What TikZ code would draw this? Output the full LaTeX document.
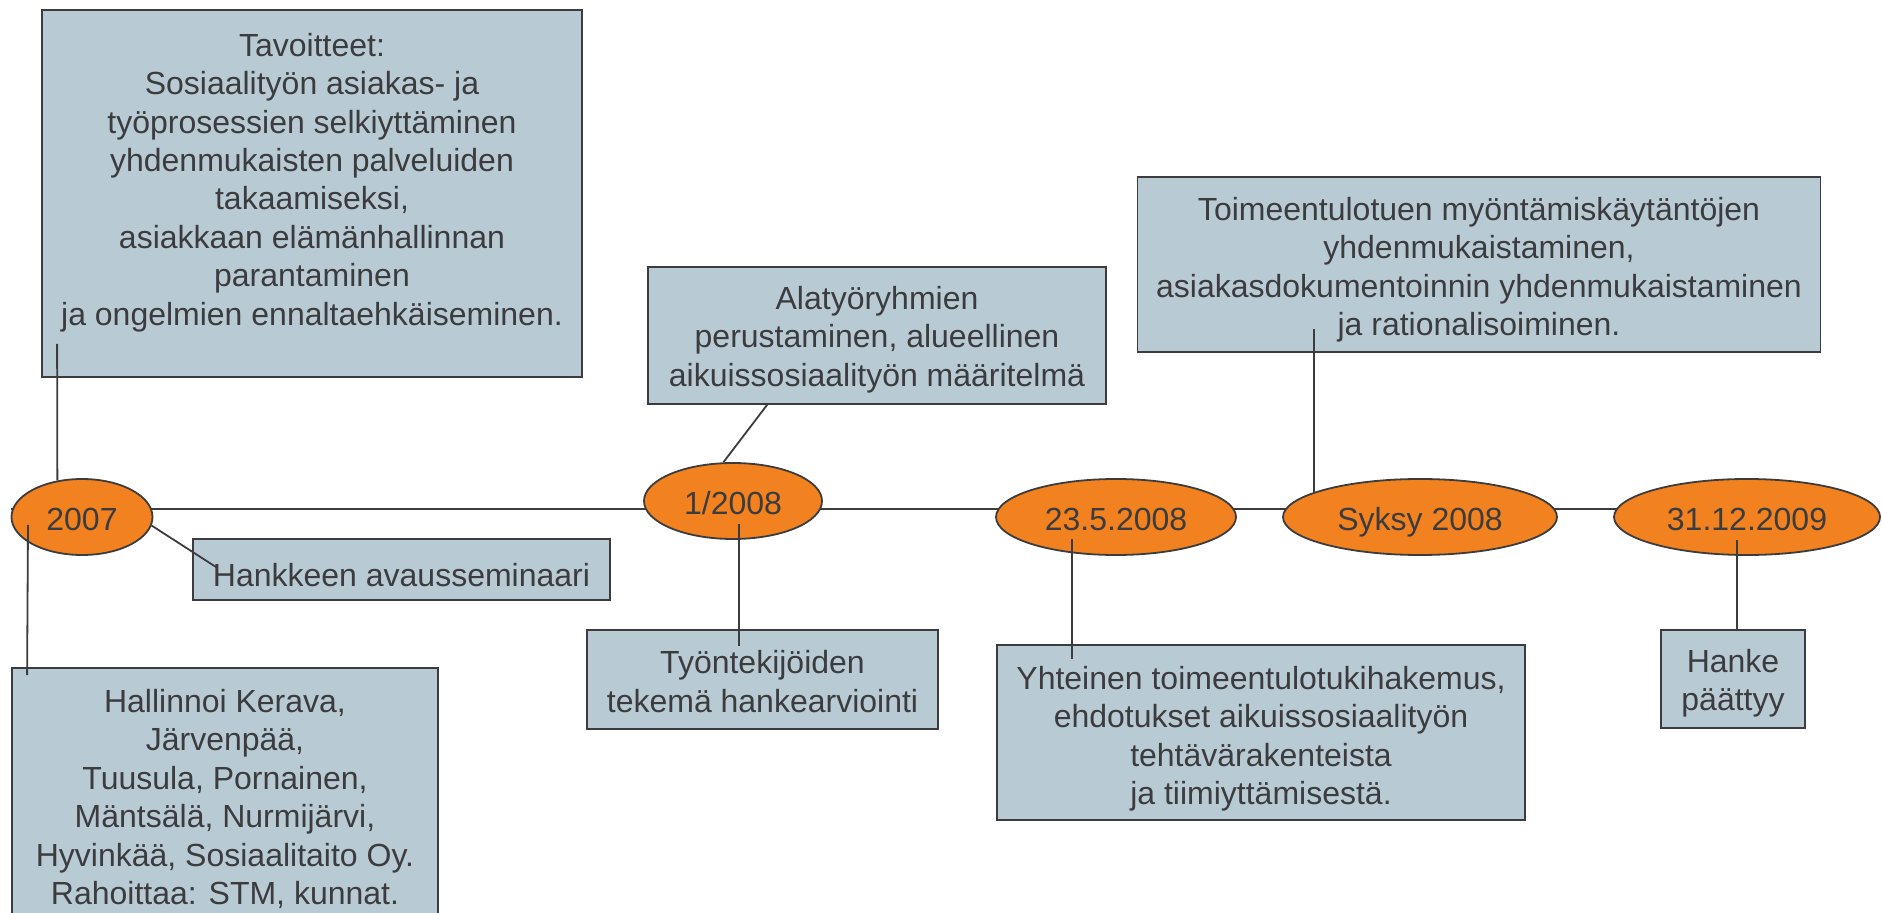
\documentclass[tikz,border=0pt]{standalone}
\usepackage{fontspec}
\setmainfont{Liberation Sans}
\usetikzlibrary{shapes.geometric}
\usetikzlibrary{calc}
\definecolor{boxblue}{RGB}{184,203,213}
\definecolor{dateorange}{RGB}{242,130,32}
\definecolor{inkgray}{RGB}{60,60,62}
\newcommand{\padtop}[1]{\rule{0pt}{#1}}
\newcommand{\padbot}[1]{\rule[-#1]{0pt}{#1}}
\tikzset{
  notebox/.style={rectangle, draw=inkgray, line width=0.9pt, fill=boxblue, text=inkgray, align=center, inner sep=0pt},
  datebox/.style={ellipse, draw=inkgray, line width=0.9pt, fill=dateorange, text=inkgray, inner sep=0pt, minimum height=38pt, text height=13.6pt, text depth=0pt},
  link/.style={draw=inkgray, line width=0.9pt}
}

\begin{document}
\begin{tikzpicture}[x=0.5pt, y=-0.5pt, font=\fontsize{16}{19.2}\selectfont]
      \useasboundingbox (0,0) rectangle (1883,913);

      % timeline
      \coordinate (tlstart) at (11,509);
      \coordinate (tlend) at (1747,509);
      \draw[link] (tlstart) -- (tlend);

      \node[datebox, minimum width=70.5pt] (e2007) at (82,517) {2007};
      \node[datebox, minimum width=89pt] (e0108) at (733,501) {1/2008};
      \node[datebox, minimum width=120pt] (e2305) at (1116,517) {23.5.2008};
      \node[datebox, minimum width=137pt] (esyksy) at (1420,517) {Syksy 2008};
      \node[datebox, minimum width=133pt] (e3112) at (1747,517) {31.12.2009};

      \node[notebox, minimum width=270pt, minimum height=183.5pt] (tav) at (312,193.5) {Tavoitteet:\\ Sosiaalityön asiakas- ja\\ työprosessien selkiyttäminen\\ yhdenmukaisten palveluiden\\ takaamiseksi,\\ asiakkaan elämänhallinnan\\ parantaminen\\ ja ongelmien ennaltaehkäiseminen.\padbot{14.4pt}};
      \node[notebox, minimum width=208.5pt, minimum height=30.5pt] (hank) at (401.5,569.5) {\padtop{16.7pt}Hankkeen avausseminaari};
      \node[notebox, minimum width=213pt, minimum height=131pt] (hall) at (225,799) {Hallinnoi Kerava,\\ Järvenpää,\\ Tuusula, Pornainen,\\ Mäntsälä, Nurmijärvi,\\ Hyvinkää, Sosiaalitaito Oy.\\ Rahoittaa: STM, kunnat.};
      \node[notebox, minimum width=229pt, minimum height=68.5pt] (alaty) at (877,335.5) {\padtop{15.7pt}Alatyöryhmien\\ perustaminen, alueellinen\\ aikuissosiaalityön määritelmä};
      \node[notebox, minimum width=175.5pt, minimum height=49.5pt] (tyont) at (762.5,679.5) {\padtop{13.7pt}Työntekijöiden\\ tekemä hankearviointi};
      \node[notebox, minimum width=264pt, minimum height=87.5pt] (yht) at (1261,732.5) {\padtop{17.7pt}Yhteinen toimeentulotukihakemus,\\ ehdotukset aikuissosiaalityön\\ tehtävärakenteista\\ ja tiimiyttämisestä.};
      \node[notebox, minimum width=341.5pt, minimum height=87.5pt] (toim) at (1479,264.5) {\padtop{16.7pt}Toimeentulotuen myöntämiskäytäntöjen\\ yhdenmukaistaminen,\\ asiakasdokumentoinnin yhdenmukaistaminen\\ ja rationalisoiminen.};
      \node[notebox, minimum width=72pt, minimum height=49pt] (hanke) at (1733,679) {\padtop{15.7pt}Hanke\\ päättyy};

      \draw[link] (e2007.124) -- ($(tav.south west)+(16,-34)$);
      \draw[link] ($(e2007.center)+(-54,8)$) -- ($(hall.north west)+(16,8)$);
      \draw[link] (e2007.-7) -- ($(hank.north west)+(24,29)$);
      \draw[link] (e0108.104) -- ($(alaty.south west)+(120,0)$);
      \draw[link] ($(e0108.center)+(6,23)$) -- ($(tyont.north)+(-23.5,17)$);
      \draw[link] ($(e2305.center)+(-44,22)$) -- ($(yht.north)+(-189,15)$);
      \draw[link] ($(toim.south)+(-165,-24)$) -- ($(esyksy.center)+(-106,-24)$);
      \draw[link] ($(e3112.center)+(-10,23)$) -- ($(hanke.north)+(4,0)$);
    \end{tikzpicture}
\end{document}
